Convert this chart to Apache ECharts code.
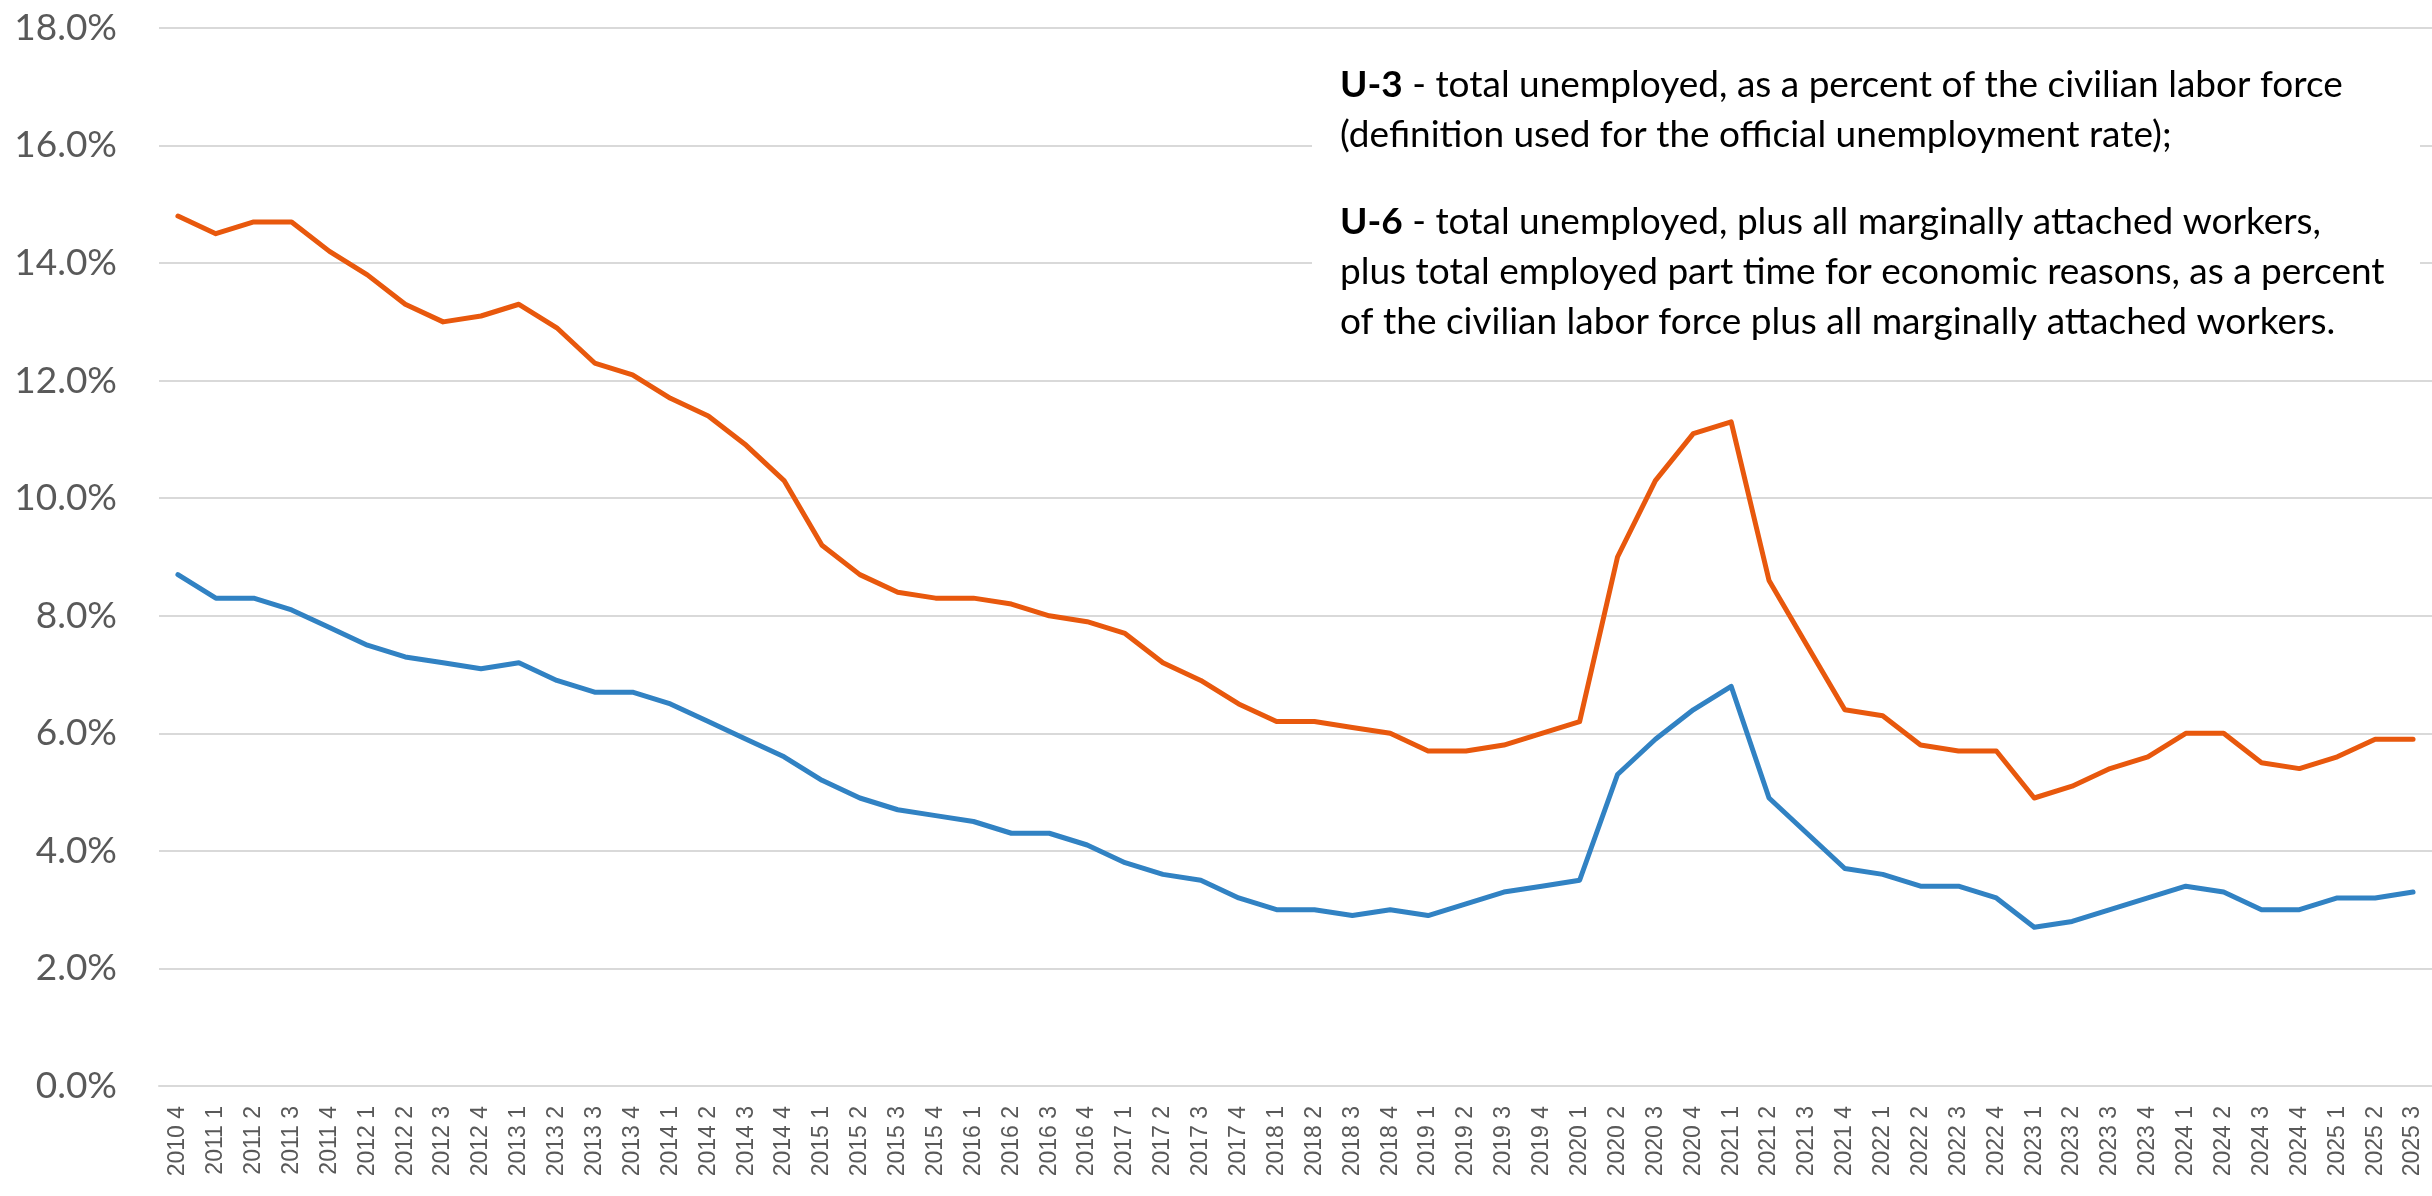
<!DOCTYPE html>
<html>
<head>
<meta charset="utf-8">
<script src="https://cdn.jsdelivr.net/npm/echarts@6/dist/echarts.min.js"></script>
<style>
	html, body { margin: 0; padding: 0; background: #fff; }
	#chart { width: 2432px; height: 1196px; }
</style>
</head>
<body>
<div id="chart"></div>
<script>
// quarters, "year quarter"
var quarters = [
	'2010 4',
	'2011 1', '2011 2', '2011 3', '2011 4',
	'2012 1', '2012 2', '2012 3', '2012 4',
	'2013 1', '2013 2', '2013 3', '2013 4',
	'2014 1', '2014 2', '2014 3', '2014 4',
	'2015 1', '2015 2', '2015 3', '2015 4',
	'2016 1', '2016 2', '2016 3', '2016 4',
	'2017 1', '2017 2', '2017 3', '2017 4',
	'2018 1', '2018 2', '2018 3', '2018 4',
	'2019 1', '2019 2', '2019 3', '2019 4',
	'2020 1', '2020 2', '2020 3', '2020 4',
	'2021 1', '2021 2', '2021 3', '2021 4',
	'2022 1', '2022 2', '2022 3', '2022 4',
	'2023 1', '2023 2', '2023 3', '2023 4',
	'2024 1', '2024 2', '2024 3', '2024 4',
	'2025 1', '2025 2', '2025 3'
];

// U-6 (orange)
var u6 = [
	14.8,
	14.5, 14.7, 14.7, 14.2,
	13.8, 13.3, 13.0, 13.1,
	13.3, 12.9, 12.3, 12.1,
	11.7, 11.4, 10.9, 10.3,
	9.2, 8.7, 8.4, 8.3,
	8.3, 8.2, 8.0, 7.9,
	7.7, 7.2, 6.9, 6.5,
	6.2, 6.2, 6.1, 6.0,
	5.7, 5.7, 5.8, 6.0,
	6.2, 9.0, 10.3, 11.1,
	11.3, 8.6, 7.5, 6.4,
	6.3, 5.8, 5.7, 5.7,
	4.9, 5.1, 5.4, 5.6,
	6.0, 6.0, 5.5, 5.4,
	5.6, 5.9, 5.9
];

// U-3 (blue)
var u3 = [
	8.7,
	8.3, 8.3, 8.1, 7.8,
	7.5, 7.3, 7.2, 7.1,
	7.2, 6.9, 6.7, 6.7,
	6.5, 6.2, 5.9, 5.6,
	5.2, 4.9, 4.7, 4.6,
	4.5, 4.3, 4.3, 4.1,
	3.8, 3.6, 3.5, 3.2,
	3.0, 3.0, 2.9, 3.0,
	2.9, 3.1, 3.3, 3.4,
	3.5, 5.3, 5.9, 6.4,
	6.8, 4.9, 4.3, 3.7,
	3.6, 3.4, 3.4, 3.2,
	2.7, 2.8, 3.0, 3.2,
	3.4, 3.3, 3.0, 3.0,
	3.2, 3.2, 3.3
];

var noteU3 = ['U-3', ' - total unemployed, as a percent of the civilian labor force',
	'(definition used for the official unemployment rate);'];
var noteU6 = ['U-6', ' - total unemployed, plus all marginally attached workers,',
	'plus total employed part time for economic reasons, as a percent',
	'of the civilian labor force plus all marginally attached workers.'];

var noteFont = 'Lato';
var noteSize = 37;

function noteText(lines){
	return '{b|' + lines[0] + '}{n|' + lines[1] + '}\n' +
		lines.slice(2).map(function(l){ return '{n|' + l + '}'; }).join('\n');
}

function noteStyle(lines){
	return {
		text: noteText(lines),
		x: 0,
		y: 0,
		fill: '#000',
		font: noteSize + 'px ' + noteFont,
		verticalAlign: 'top',
		lineHeight: 50,
		rich: {
			b: { fontFamily: noteFont, fontSize: noteSize, fontWeight: 'bold', lineHeight: 50, fill: '#000' },
			n: { fontFamily: noteFont, fontSize: noteSize, lineHeight: 50, fill: '#000' }
		}
	};
}

var myChart = echarts.init(document.getElementById('chart'));

var option = {
	animation: false,
	backgroundColor: '#fff',
	grid: {
		left: 159,
		right: 0,
		top: 28,
		bottom: 110
	},
	xAxis: {
		type: 'category',
		data: quarters,
		boundaryGap: true,
		axisTick: { show: false },
		axisLine: { lineStyle: { color: '#D9D9D9', width: 2 } },
		axisLabel: {
			interval: 0,
			rotate: 90,
			margin: 20,
			color: '#595959',
			fontFamily: 'Liberation Sans',
			fontSize: 23
		}
	},
	yAxis: {
		type: 'value',
		min: 0,
		max: 18,
		interval: 2,
		axisLine: { show: false },
		axisTick: { show: false },
		splitLine: { lineStyle: { color: '#D9D9D9', width: 2 } },
		axisLabel: {
			margin: 42,
			color: '#595959',
			fontFamily: 'Lato',
			fontSize: 37,
			formatter: function(v){ return v.toFixed(1) + '%'; }
		}
	},
	series: [
		{
			name: 'U-6',
			type: 'line',
			data: u6,
			symbol: 'none',
			lineStyle: { color: '#E8580D', width: 5, cap: 'round', join: 'round' },
			itemStyle: { color: '#E8580D' }
		},
		{
			name: 'U-3',
			type: 'line',
			data: u3,
			symbol: 'none',
			lineStyle: { color: '#3182C3', width: 5, cap: 'round', join: 'round' },
			itemStyle: { color: '#3182C3' }
		}
	],
	graphic: [
		{
			type: 'rect',
			left: 1312,
			top: 40,
			shape: { width: 1108, height: 320 },
			style: { fill: '#fff' },
			z: 10
		},
		{
			type: 'text',
			left: 1340,
			top: 60,
			style: noteStyle(noteU3),
			z: 11
		},
		{
			type: 'text',
			left: 1340,
			top: 197,
			style: noteStyle(noteU6),
			z: 11
		}
	]
};

myChart.setOption(option);
</script>
</body>
</html>
